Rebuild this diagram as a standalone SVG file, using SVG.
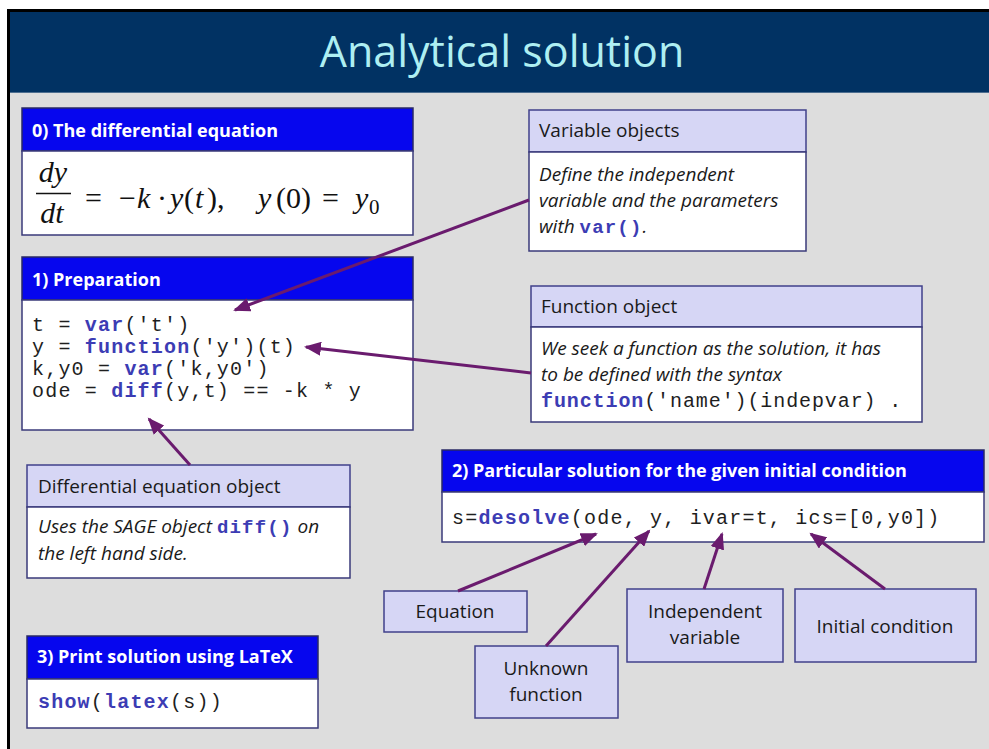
<svg xmlns="http://www.w3.org/2000/svg" width="989" height="749" viewBox="0 0 989 749">
  <defs>
    <marker id="ah" markerUnits="userSpaceOnUse" markerWidth="18" markerHeight="14" refX="15" refY="7" orient="auto">
      <path d="M0,0 L17,7 L0,14 Z" fill="#6A1B6E"/>
    </marker>
  </defs>
  <style>
    .blue { fill:#0606EE; stroke:#2a2a66; stroke-width:1.5; }
    .white { fill:#FFFFFF; stroke:#3a3a7a; stroke-width:1.5; }
    .lav { fill:#D6D6F5; stroke:#40408a; stroke-width:1.5; }
    .ht { font-family:"Open Sans","Liberation Sans",sans-serif; font-weight:bold; font-size:18px; fill:#FFFFFF; }
    .lt { font-family:"Open Sans","Liberation Sans",sans-serif; font-size:19px; fill:#1a1a1a; }
    .it { font-style:italic; }
    .code { font-family:"Liberation Mono","Courier New",monospace; font-size:20px; letter-spacing:1.2px; fill:#1e1e1e; }
    .kw { fill:#3c3cb4; font-weight:bold; }
    .im { font-family:"Liberation Mono","Courier New",monospace; font-size:19px; letter-spacing:1.2px; font-style:normal; }
    .m { font-family:"Liberation Serif","Times New Roman",serif; font-size:30px; fill:#111; }
    .mi { font-style:italic; }
    .conn { stroke:#6A1B6E; stroke-width:3; fill:none; marker-end:url(#ah); }
  </style>

  <!-- background -->
  <rect x="0" y="0" width="989" height="749" fill="#FFFFFF"/>
  <rect x="9" y="11" width="980" height="738" fill="#DDDDDD"/>
  <rect x="10" y="12" width="979" height="80" fill="#013263"/>
  <line x1="10" y1="92.5" x2="989" y2="92.5" stroke="#4d6e90" stroke-width="1"/>
  <line x1="8.5" y1="10" x2="8.5" y2="749" stroke="#000" stroke-width="3"/>
  <line x1="7" y1="10.5" x2="989" y2="10.5" stroke="#000" stroke-width="3"/>
  <text x="502" y="67" text-anchor="middle" font-family="'Open Sans','Liberation Sans',sans-serif" font-size="43" fill="#AEEFF2">Analytical solution</text>

  <!-- 0) The differential equation -->
  <g id="box0">
    <rect class="blue" x="22" y="108" width="391" height="43"/>
    <rect class="white" x="22" y="151" width="391" height="84"/>
    <text class="ht" x="32" y="137">0) The differential equation</text>
    <text class="m mi" x="53" y="182" text-anchor="middle">dy</text>
    <line x1="36" y1="193.5" x2="71" y2="193.5" stroke="#111" stroke-width="1.5"/>
    <text class="m mi" x="52" y="223" text-anchor="middle">dt</text>
    <text class="m" y="208"><tspan x="85">=</tspan><tspan x="119">−</tspan><tspan x="137" class="mi">k</tspan><tspan x="157">·</tspan><tspan x="170" class="mi">y</tspan><tspan x="184">(</tspan><tspan x="195" class="mi">t</tspan><tspan x="207">),</tspan><tspan x="258" class="mi">y</tspan><tspan x="276">(0)</tspan><tspan x="322">=</tspan><tspan x="355" class="mi">y</tspan><tspan x="369" y="214" font-size="21">0</tspan></text>
  </g>

  <!-- 1) Preparation -->
  <g id="box1">
    <rect class="blue" x="22" y="257" width="391" height="43"/>
    <rect class="white" x="22" y="300" width="391" height="130"/>
    <text class="ht" x="32" y="286">1) Preparation</text>
    <text class="code" x="32" y="331">t = <tspan class="kw">var</tspan>('t')</text>
    <text class="code" x="32" y="353">y = <tspan class="kw">function</tspan>('y')(t)</text>
    <text class="code" x="32" y="375">k,y0 = <tspan class="kw">var</tspan>('k,y0')</text>
    <text class="code" x="32" y="397">ode = <tspan class="kw">diff</tspan>(y,t) == -k * y</text>
  </g>

  <!-- Variable objects -->
  <g id="variable-objects">
    <rect class="lav" x="529" y="110" width="277" height="42"/>
    <rect class="white" x="529" y="152" width="277" height="99"/>
    <text class="lt" x="539" y="137">Variable objects</text>
    <text class="lt it" x="539" y="181">Define the independent</text>
    <text class="lt it" x="539" y="207">variable and the parameters</text>
    <text class="lt it" x="539" y="233">with <tspan class="im kw">var()</tspan>.</text>
  </g>

  <!-- Function object -->
  <g id="function-object">
    <rect class="lav" x="531" y="286" width="391" height="41"/>
    <rect class="white" x="531" y="327" width="391" height="95"/>
    <text class="lt" x="541" y="313">Function object</text>
    <text class="lt it" x="541" y="355">We seek a function as the solution, it has</text>
    <text class="lt it" x="541" y="381">to be defined with the syntax</text>
    <text class="code" x="541" y="407" style="letter-spacing:0.9px"><tspan class="kw">function</tspan>('name')(indepvar) .</text>
  </g>

  <!-- Differential equation object -->
  <g id="diffeq-object">
    <rect class="lav" x="27" y="465" width="323" height="42"/>
    <rect class="white" x="27" y="507" width="323" height="71"/>
    <text class="lt" x="38" y="493">Differential equation object</text>
    <text class="lt it" x="38" y="533">Uses the SAGE object <tspan class="im kw">diff()</tspan> on</text>
    <text class="lt it" x="38" y="560">the left hand side.</text>
  </g>

  <!-- 2) Particular solution -->
  <g id="box2">
    <rect class="blue" x="442" y="450" width="542" height="42"/>
    <rect class="white" x="442" y="492" width="542" height="50"/>
    <text class="ht" x="452" y="477">2) Particular solution for the given initial condition</text>
    <text class="code" x="452" y="524">s=<tspan class="kw">desolve</tspan>(ode, y, ivar=t, ics=[0,y0])</text>
  </g>

  <!-- 3) Print solution -->
  <g id="box3">
    <rect class="blue" x="27" y="636" width="291" height="43"/>
    <rect class="white" x="27" y="679" width="291" height="49"/>
    <text class="ht" x="37" y="663">3) Print solution using LaTeX</text>
    <text class="code" x="38" y="708"><tspan class="kw">show</tspan>(<tspan class="kw">latex</tspan>(s))</text>
  </g>

  <!-- small label boxes -->
  <g id="equation">
    <rect class="lav" x="384" y="591" width="143" height="41"/>
    <text class="lt" x="455" y="618" text-anchor="middle">Equation</text>
  </g>
  <g id="unknown-function">
    <rect class="lav" x="475" y="646" width="143" height="72"/>
    <text class="lt" x="546" y="675" text-anchor="middle">Unknown</text>
    <text class="lt" x="546" y="701" text-anchor="middle">function</text>
  </g>
  <g id="independent-variable">
    <rect class="lav" x="627" y="589" width="156" height="73"/>
    <text class="lt" x="705" y="618" text-anchor="middle">Independent</text>
    <text class="lt" x="705" y="644" text-anchor="middle">variable</text>
  </g>
  <g id="initial-condition">
    <rect class="lav" x="795" y="589" width="181" height="73"/>
    <text class="lt" x="885" y="633" text-anchor="middle">Initial condition</text>
  </g>

  <!-- connectors -->
  <g id="connectors">
    <line class="conn" x1="529" y1="200" x2="235" y2="310"/>
    <line class="conn" x1="531" y1="373" x2="306" y2="347"/>
    <line class="conn" x1="190" y1="465" x2="149" y2="419"/>
    <line class="conn" x1="458" y1="591" x2="596" y2="534"/>
    <line class="conn" x1="546" y1="646" x2="649" y2="531"/>
    <line class="conn" x1="704" y1="589" x2="722" y2="534"/>
    <line class="conn" x1="885" y1="589" x2="811" y2="534"/>
  </g>
</svg>
